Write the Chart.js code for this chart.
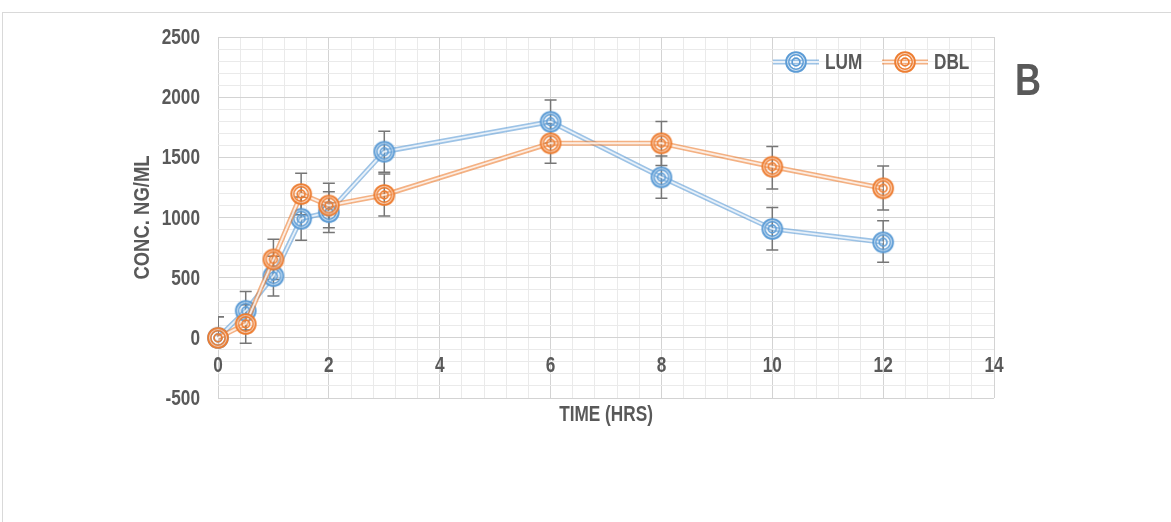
<!DOCTYPE html>
<html>
<head>
<meta charset="utf-8">
<title>Plasma concentration – LUM vs DBL</title>
<script src="https://cdn.jsdelivr.net/npm/chart.js@4.4.1/dist/chart.umd.min.js"></script>
<style>
  html, body { margin: 0; padding: 0; background: #fff; overflow: hidden; }
  #wrap { position: relative; width: 1171px; height: 522px; }
  #frame { position: absolute; left: 2px; top: 12px; width: 1400px; height: 700px;
           border: 1px solid #d9d9d9; box-sizing: border-box; }
  canvas { position: absolute; left: 0; top: 0; }
</style>
</head>
<body>
<div id="wrap">
  <div id="frame"></div>
  <canvas id="chart" width="1171" height="522"></canvas>
</div>
<script>
// Sampling times (hours)
const times = [0, 0.5, 1, 1.5, 2, 3, 6, 8, 10, 12];

// Mean concentrations (ng/mL)
const lumConc = [0, 225, 513, 990, 1045, 1547, 1796, 1334, 905, 794];
const dblConc = [0, 115, 652, 1195, 1100, 1187, 1617, 1617, 1422, 1243];

// Error bar lengths above / below each mean
const lumErrUp   = [175, 160, 166, 180, 170, 170, 180, 178, 178, 180];
const lumErrDown = [0,   160, 166, 180, 170, 170, 180, 175, 175, 166];
const dblErrUp   = [175, 160, 167, 172, 185, 175, 167, 180, 167, 185];
const dblErrDown = [0,   160, 167, 172, 185, 175, 167, 185, 185, 180];

// Axis tick values that carry a label
const xTickLabels = [0, 2, 4, 6, 8, 10, 12, 14];
const yTickLabels = [-500, 0, 500, 1000, 1500, 2000, 2500];

const seriesNames = ['LUM', 'DBL'];
const xTitle = 'TIME (HRS)';
const yTitle = 'CONC. NG/ML';
const panelLetter = 'B';

const FONT = '"Liberation Sans", Arial, sans-serif';
const TEXT = '#595959';
const BLUE = '#5B9BD5', BLUE_PALE = '#BDD7EE';
const ORANGE = '#ED7D31', ORANGE_PALE = '#F8CBAD';

function points(ys) { return times.map((t, i) => ({ x: t, y: ys[i] })); }

// Condensed bold label text (narrow face emulated by horizontal scaling)
function narrowText(ctx, text, x, y, align, sx, rotate) {
  ctx.save();
  ctx.translate(x, y);
  if (rotate) ctx.rotate(-Math.PI / 2);
  ctx.scale(sx, 1.05);
  ctx.font = 'bold 21px ' + FONT;
  ctx.fillStyle = TEXT;
  ctx.textAlign = align;
  ctx.textBaseline = 'middle';
  ctx.fillText(text, 0, 0);
  ctx.restore();
}

// Double-ring circle marker
function makeMarker(color, pale) {
  const c = document.createElement('canvas');
  c.width = 26; c.height = 26;
  const g = c.getContext('2d');
  const cx = 13, cy = 13;
  g.beginPath();
  g.arc(cx, cy, 9.9, 0, Math.PI * 2);
  g.arc(cx, cy, 7.2, 0, Math.PI * 2, true);
  g.fillStyle = pale; g.globalAlpha = 0.75; g.fill(); g.globalAlpha = 1;
  g.strokeStyle = color;
  g.lineWidth = 1.8; g.beginPath(); g.arc(cx, cy, 9.9, 0, Math.PI * 2); g.stroke();
  g.lineWidth = 1.4; g.beginPath(); g.arc(cx, cy, 7.2, 0, Math.PI * 2); g.stroke();
  g.lineWidth = 1.7; g.beginPath(); g.arc(cx, cy, 3.9, 0, Math.PI * 2); g.stroke();
  return c;
}
const lumMarker = makeMarker(BLUE, BLUE_PALE);
const dblMarker = makeMarker(ORANGE, ORANGE_PALE);

// One series = outer line, pale inner line, markers
function seriesDatasets(name, ys, color, marker, baseOrder) {
  return [
    { label: name + ' line', data: points(ys), showLine: true, borderColor: color + '99',
      borderWidth: 5, pointRadius: 0, tension: 0, clip: false, order: baseOrder + 2 },
    { label: name + ' inner', data: points(ys), showLine: true, borderColor: 'rgba(255,255,255,0.78)',
      borderWidth: 1.8, pointRadius: 0, tension: 0, clip: false, order: baseOrder + 1 },
    { label: name, data: points(ys), showLine: false, pointStyle: marker, pointRadius: 10,
      clip: false, order: baseOrder, errUp: null, errDown: null }
  ];
}

const lumSets = seriesDatasets(seriesNames[0], lumConc, BLUE, lumMarker, 4);
const dblSets = seriesDatasets(seriesNames[1], dblConc, ORANGE, dblMarker, 1);
lumSets[2].errUp = lumErrUp; lumSets[2].errDown = lumErrDown;
dblSets[2].errUp = dblErrUp; dblSets[2].errDown = dblErrDown;

// Vertical error bars with caps, behind the series
const errorBars = {
  id: 'errorBars',
  beforeDatasetsDraw(chart) {
    const { ctx, chartArea: a, scales: { x, y } } = chart;
    ctx.save();
    ctx.beginPath(); ctx.rect(a.left, a.top, a.right - a.left, a.bottom - a.top); ctx.clip();
    ctx.strokeStyle = '#767676'; ctx.lineWidth = 1.5;
    chart.data.datasets.forEach(ds => {
      if (!ds.errUp) return;
      ds.data.forEach((p, i) => {
        const px = x.getPixelForValue(p.x);
        const top = y.getPixelForValue(p.y + ds.errUp[i]);
        const bot = y.getPixelForValue(p.y - ds.errDown[i]);
        ctx.beginPath();
        ctx.moveTo(px, top); ctx.lineTo(px, bot);
        ctx.moveTo(px - 6, top); ctx.lineTo(px + 6, top);
        if (ds.errDown[i] > 0) { ctx.moveTo(px - 6, bot); ctx.lineTo(px + 6, bot); }
        ctx.stroke();
      });
    });
    ctx.restore();
  }
};

// Tick labels, axis titles, in-plot legend and panel letter
const annotations = {
  id: 'annotations',
  afterDraw(chart) {
    const { ctx, chartArea: a, scales: { x, y } } = chart;
    ctx.save();

    // x tick labels sit under the zero line
    const zeroY = y.getPixelForValue(0);
    x.ticks.forEach(t => {
      if (xTickLabels.some(v => Math.abs(v - t.value) < 1e-6)) {
        narrowText(ctx, String(Math.round(t.value)), x.getPixelForValue(t.value), zeroY + 28, 'center', 0.82);
      }
    });
    // y tick labels
    y.ticks.forEach(t => {
      if (yTickLabels.some(v => Math.abs(v - t.value) < 1e-6)) {
        narrowText(ctx, String(Math.round(t.value)), a.left - 18, y.getPixelForValue(t.value) + 1, 'right', 0.82);
      }
    });

    // axis titles
    narrowText(ctx, xTitle, (a.left + a.right) / 2, a.bottom + 17, 'center', 0.82);
    narrowText(ctx, yTitle, 143, (a.top + a.bottom) / 2, 'center', 0.88, true);

    // legend
    const items = [
      { name: seriesNames[0], color: BLUE, marker: lumMarker, x: 773 },
      { name: seriesNames[1], color: ORANGE, marker: dblMarker, x: 882 }
    ];
    const ly = 62;
    items.forEach(it => {
      ctx.strokeStyle = it.color + '99'; ctx.lineWidth = 5;
      ctx.beginPath(); ctx.moveTo(it.x, ly); ctx.lineTo(it.x + 46, ly); ctx.stroke();
      ctx.strokeStyle = 'rgba(255,255,255,0.78)'; ctx.lineWidth = 1.8;
      ctx.beginPath(); ctx.moveTo(it.x, ly); ctx.lineTo(it.x + 46, ly); ctx.stroke();
      ctx.drawImage(it.marker, it.x + 23 - 13, ly - 13);
      narrowText(ctx, it.name, it.x + 52, ly + 1, 'left', 0.82);
    });

    // panel letter
    ctx.save();
    ctx.translate(1028, 95); ctx.scale(1, 1.25);
    ctx.fillStyle = TEXT;
    ctx.font = 'bold 36px ' + FONT;
    ctx.textAlign = 'center'; ctx.textBaseline = 'alphabetic';
    ctx.fillText(panelLetter, 0, 0);
    ctx.restore();

    ctx.restore();
  }
};

const isLabelled = (v, list) => list.some(t => Math.abs(t - v) < 1e-6);

new Chart(document.getElementById('chart'), {
  type: 'scatter',
  data: { datasets: [...lumSets, ...dblSets] },
  options: {
    responsive: false,
    animation: false,
    layout: { padding: { left: 126, top: 37, right: 177, bottom: 124 } },
    plugins: { legend: { display: false }, tooltip: { enabled: false } },
    scales: {
      x: {
        type: 'linear',
        position: { y: 0 },
        min: 0, max: 14,
        ticks: { stepSize: 0.4, autoSkip: false, display: false },
        grid: {
          drawTicks: false,
          color: c => isLabelled(c.tick.value, xTickLabels) ? '#d3d3d3' : '#eaeaea',
          lineWidth: 1
        },
        border: { display: false }
      },
      y: {
        type: 'linear',
        min: -500, max: 2500,
        afterFit: s => { s.width = 92; },
        ticks: { stepSize: 100, autoSkip: false, display: false },
        grid: {
          drawTicks: false,
          color: c => isLabelled(c.tick.value, yTickLabels) ? '#d3d3d3' : '#eaeaea',
          lineWidth: 1
        },
        border: { display: false }
      }
    }
  },
  plugins: [errorBars, annotations]
});
</script>
</body>
</html>
